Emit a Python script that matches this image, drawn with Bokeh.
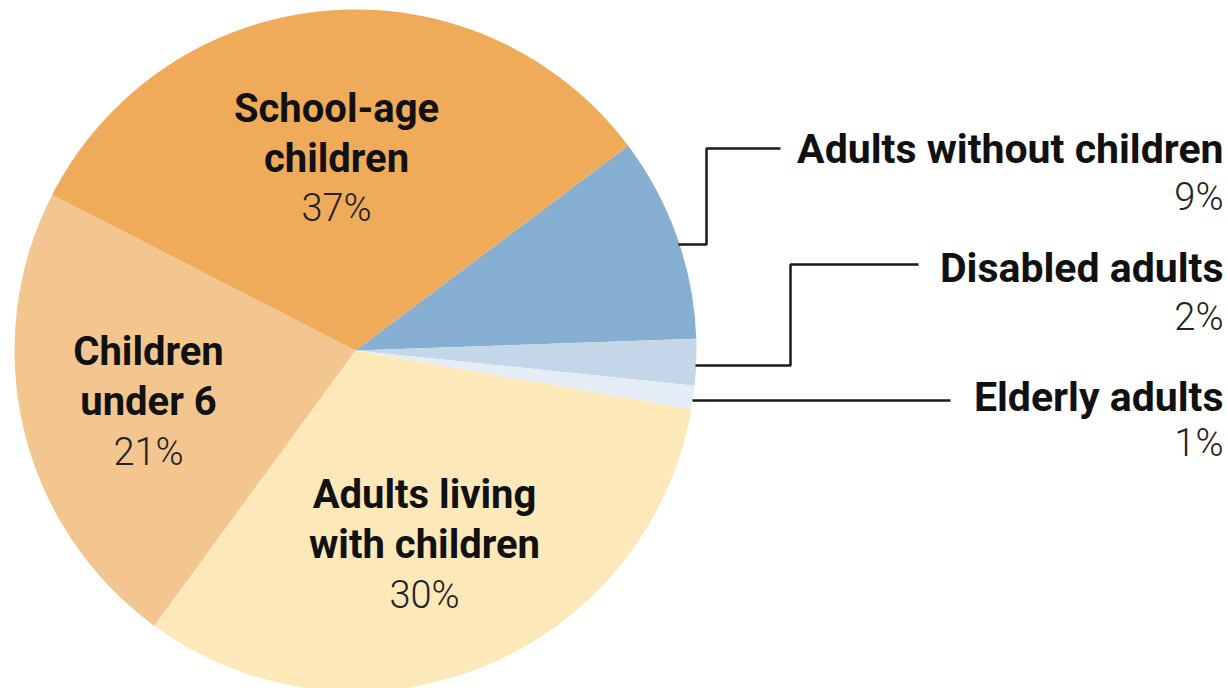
import numpy as np
from bokeh.plotting import figure
from bokeh.models import Range1d, ColumnDataSource
from bokeh.core.properties import value
from bokeh.embed import file_html
from bokeh.resources import INLINE

# ---- data (clockwise from the top-right boundary) ----
categories = ["Adults without children", "Disabled adults", "Elderly adults",
              "Adults living with children", "Children under 6", "School-age children"]
# slice shares as drawn in the picture (percent of the circle)
slice_shares = [9.7, 2.2, 1.1, 32.3, 22.5, 32.2]
# percentages printed on the chart
pct_labels = ["9%", "2%", "1%", "30%", "21%", "37%"]
colors = ["#86afd2", "#c3d7e8", "#e4edf5", "#fde8b9", "#f3c68f", "#efab5a"]

W, H = 1229, 688
START_DEG = 36.9
CX, CY, R = 355, H - 350, 341

shares = np.array(slice_shares, dtype=float)
frac = shares / shares.sum()
cum_before = np.concatenate([[0], np.cumsum(frac)[:-1]])
start = np.deg2rad(START_DEG) - cum_before * 2 * np.pi
end = start - frac * 2 * np.pi

src = ColumnDataSource(dict(cat=categories, start=start, end=end, color=colors))

p = figure(width=W, height=H, x_range=Range1d(0, W), y_range=Range1d(0, H),
           output_backend="svg", toolbar_location=None, min_border=0)
p.axis.visible = False
p.grid.visible = False
p.outline_line_color = None
p.background_fill_color = "white"
p.border_fill_color = "white"

p.wedge(x=CX, y=CY, radius=R, start_angle="start", end_angle="end",
        direction="clock", fill_color="color", line_color=None, source=src)

BOLD = value("Roboto")
LIGHT = value("Roboto Light")

def py(v):
    return H - v

# labels inside the pie: (lines, center x, vertical centres)
inside = [
    (["School-age", "children"], pct_labels[5], 336, [108, 158, 207]),
    (["Children", "under 6"], pct_labels[4], 148, [351, 401, 451]),
    (["Adults living", "with children"], pct_labels[3], 424, [494, 544, 594]),
]
for lines, pct, x, ys in inside:
    p.text(x=[x] * len(lines), y=[py(v) for v in ys[:len(lines)]], text=lines,
           text_align="center", text_baseline="middle", text_font=BOLD,
           text_font_style="bold", text_font_size="40px", text_color="#111111")
    p.text(x=[x], y=[py(ys[-1])], text=[pct], text_align="center",
           text_baseline="middle", text_font=LIGHT, text_font_size="38px",
           text_color="#222222")

# labels on the right
RX = 1223
outside = [
    (categories[0], pct_labels[0], 148, 196),
    (categories[1], pct_labels[1], 267, 316),
    (categories[2], pct_labels[2], 396, 442),
]
for name, pct, yb, yp in outside:
    p.text(x=[RX], y=[py(yb)], text=[name], text_align="right",
           text_baseline="middle", text_font=BOLD, text_font_style="bold",
           text_font_size="41px", text_color="#111111")
    p.text(x=[RX], y=[py(yp)], text=[pct], text_align="right",
           text_baseline="middle", text_font=LIGHT, text_font_size="38px",
           text_color="#222222")

# leader lines
leaders = [
    ([678, 706, 706, 780], [244, 244, 148, 148]),
    ([695, 790, 790, 918], [365, 365, 264, 264]),
    ([692, 950], [400, 400]),
]
for xs, ys in leaders:
    p.line(x=xs, y=[py(v) for v in ys], line_color="#1a1a1a", line_width=2.5)

open("out.html", "w").write(file_html(p, INLINE))
